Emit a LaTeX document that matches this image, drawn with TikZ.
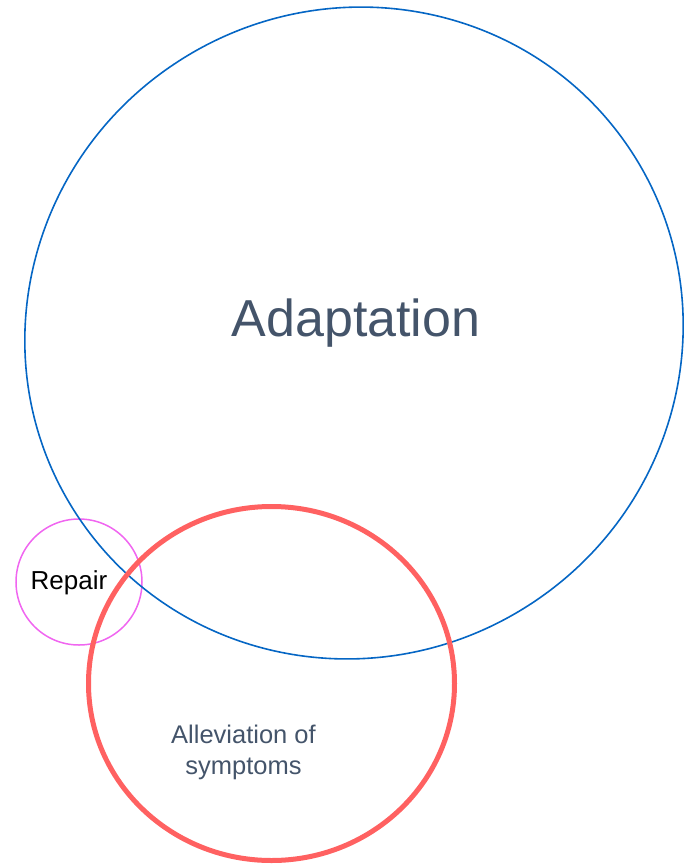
\documentclass[tikz,border=0pt]{standalone}
\usepackage{fontspec}
\setmainfont{Liberation Sans}
\definecolor{adblue}{HTML}{0566C4}
\definecolor{alred}{HTML}{FF6161}
\definecolor{reppink}{HTML}{F066F0}
\definecolor{txtgray}{HTML}{44546A}
\begin{document}
\begin{tikzpicture}[x=1pt,y=1pt,
  ringblue/.style={draw=adblue,line width=1.6pt},
  ringred/.style={draw=alred,line width=5pt},
  ringpink/.style={draw=reppink,line width=1.5pt},
  lbl/.style={inner sep=0pt,align=center}]
\useasboundingbox (0,0) rectangle (686,-865);
\coordinate (cA) at (354,-333);
\coordinate (cR) at (79,-582);
\coordinate (cL) at (271.5,-683.5);
\draw[ringpink] (cR) circle [radius=63];
\draw[ringblue,rotate around={33:(cA)}] (cA) ellipse [x radius=331.5, y radius=323.5];
\draw[ringred] (cL) ellipse [x radius=183, y radius=177];
\node[lbl,text=txtgray,font=\fontsize{52}{60}\selectfont,anchor=base] (tA) at (356,-336) {Adaptation};
\node[lbl,text=black,font=\fontsize{26}{30}\selectfont,anchor=base] (tR) at (69,-589) {Repair};
\node[lbl,text=txtgray,font=\fontsize{25.5}{31}\selectfont,anchor=base] (tL1) at (243.5,-743) {Alleviation of};
\node[lbl,text=txtgray,font=\fontsize{25.5}{31}\selectfont,anchor=base] (tL2) at (243.5,-774) {symptoms};
\end{tikzpicture}
\end{document}
